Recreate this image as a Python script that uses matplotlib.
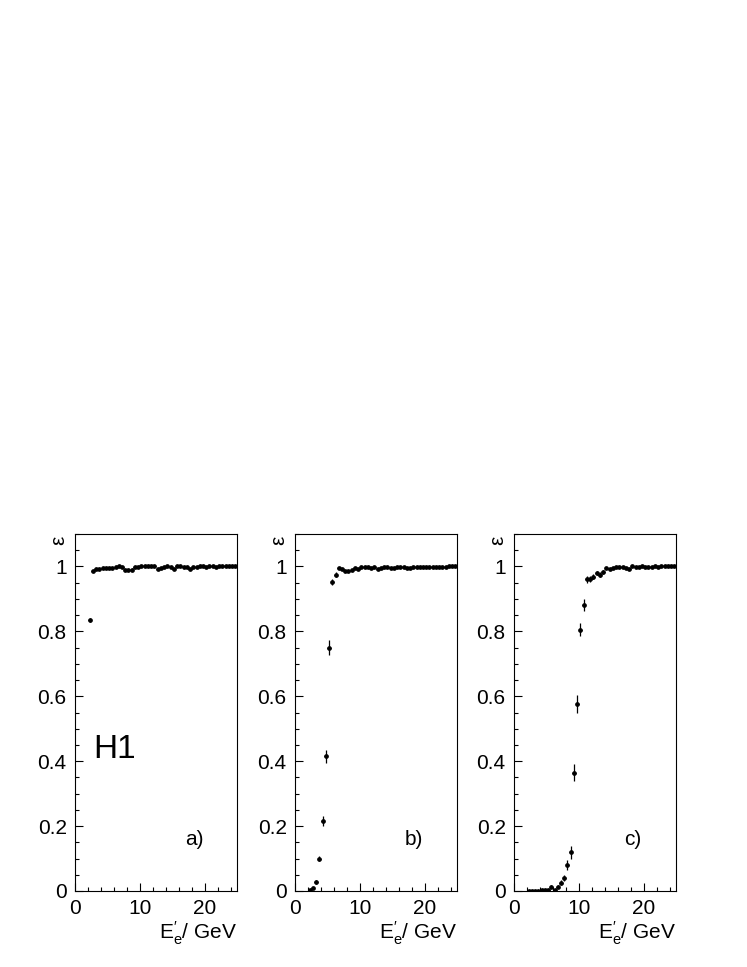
import matplotlib
matplotlib.use("Agg")
import matplotlib.pyplot as plt
from matplotlib.ticker import MultipleLocator, FuncFormatter

plt.rcParams['font.family'] = ['Liberation Sans', 'DejaVu Sans']
plt.rcParams['mathtext.fontset'] = 'custom'
plt.rcParams['mathtext.rm'] = 'Liberation Sans'
plt.rcParams['mathtext.it'] = 'Liberation Sans'

# bin centres of E'_e (GeV)
e_bins = [2.25, 2.75, 3.25, 3.75, 4.25, 4.75, 5.25, 5.75, 6.25, 6.75,
          7.25, 7.75, 8.25, 8.75, 9.25, 9.75, 10.25, 10.75, 11.25, 11.75,
          12.25, 12.75, 13.25, 13.75, 14.25, 14.75, 15.25, 15.75, 16.25, 16.75,
          17.25, 17.75, 18.25, 18.75, 19.25, 19.75, 20.25, 20.75, 21.25, 21.75,
          22.25, 22.75, 23.25, 23.75, 24.25, 24.75]
bin_half = 0.25

# efficiencies
eff_a = [0.835, 0.985, 0.992, 0.993, 0.994, 0.994, 0.995, 0.996, 0.998, 1.0,
         0.999, 0.989, 0.989, 0.990, 0.999, 0.997, 1.0, 1.0, 1.0, 1.0,
         1.0, 0.993, 0.996, 0.997, 1.0, 0.998, 0.993, 1.0, 1.0, 0.999,
         0.997, 0.993, 0.998, 0.999, 1.0, 1.0, 0.999, 1.0, 1.0, 0.999,
         1.0, 1.0, 1.0, 1.0, 1.0, 1.0]
err_a = [0.005, 0.003, 0.002, 0.002, 0.002, 0.002, 0.002, 0.002, 0.002, 0.002,
         0.002, 0.004, 0.004, 0.004, 0.002, 0.002, 0.002, 0.002, 0.002, 0.002,
         0.002, 0.002, 0.002, 0.002, 0.002, 0.002, 0.002, 0.002, 0.002, 0.002,
         0.002, 0.002, 0.002, 0.002, 0.002, 0.002, 0.002, 0.002, 0.002, 0.002,
         0.002, 0.002, 0.002, 0.002, 0.002, 0.002]

eff_b = [0.002, 0.008, 0.028, 0.100, 0.215, 0.415, 0.750, 0.952, 0.975, 0.995,
         0.993, 0.987, 0.986, 0.988, 0.995, 0.993, 0.998, 0.997, 0.998, 0.995,
         0.999, 0.992, 0.994, 0.998, 0.999, 0.996, 0.995, 0.999, 0.999, 0.997,
         0.996, 0.994, 0.998, 0.999, 0.999, 0.998, 0.999, 0.998, 0.999, 0.998,
         0.999, 0.999, 0.999, 1.0, 1.0, 1.0]
err_b = [0.002, 0.003, 0.005, 0.008, 0.015, 0.020, 0.022, 0.010, 0.008, 0.003,
         0.003, 0.003, 0.003, 0.003, 0.003, 0.003, 0.003, 0.003, 0.003, 0.003,
         0.003, 0.003, 0.003, 0.003, 0.003, 0.003, 0.003, 0.003, 0.003, 0.003,
         0.003, 0.003, 0.003, 0.003, 0.003, 0.003, 0.003, 0.003, 0.003, 0.003,
         0.003, 0.003, 0.003, 0.003, 0.003, 0.003]

eff_c = [0.0, 0.0, 0.001, 0.001, 0.002, 0.003, 0.004, 0.013, 0.002, 0.013,
         0.025, 0.040, 0.080, 0.120, 0.365, 0.575, 0.805, 0.882, 0.960, 0.962,
         0.968, 0.980, 0.975, 0.983, 0.996, 0.993, 0.995, 0.997, 0.999, 0.998,
         0.995, 0.992, 1.0, 0.999, 0.999, 1.0, 0.999, 0.999, 0.999, 1.0,
         0.999, 1.0, 1.0, 1.0, 1.0, 1.0]
err_c = [0.002, 0.002, 0.002, 0.002, 0.002, 0.002, 0.002, 0.004, 0.003, 0.005,
         0.008, 0.010, 0.015, 0.020, 0.027, 0.028, 0.020, 0.018, 0.010, 0.010,
         0.008, 0.007, 0.007, 0.005, 0.003, 0.003, 0.003, 0.003, 0.003, 0.003,
         0.003, 0.003, 0.003, 0.003, 0.003, 0.003, 0.003, 0.003, 0.003, 0.003,
         0.003, 0.003, 0.003, 0.003, 0.003, 0.003]

panels = [(eff_a, err_a, 'a)'), (eff_b, err_b, 'b)'), (eff_c, err_c, 'c)')]
lefts = [75, 295, 514]

W, H = 747, 967
fig = plt.figure(figsize=(W / 100, H / 100), dpi=100)


def fmt(v, pos):
    if abs(v) < 1e-9:
        return '0'
    if abs(v - 1) < 1e-9:
        return '1'
    return '%.1f' % v


for (eff, err, tag), left in zip(panels, lefts):
    ax = fig.add_axes([left / W, 1 - 891 / H, 162 / W, 357 / H])
    ax.errorbar(e_bins, eff, yerr=err, xerr=bin_half, fmt='o', color='black',
                ms=2.4, elinewidth=0.9, capsize=0)
    ax.set_xlim(0, 25)
    ax.set_ylim(0, 1.1)
    ax.xaxis.set_major_locator(MultipleLocator(10))
    ax.xaxis.set_minor_locator(MultipleLocator(2))
    ax.yaxis.set_major_locator(MultipleLocator(0.2))
    ax.yaxis.set_minor_locator(MultipleLocator(0.05))
    ax.yaxis.set_major_formatter(FuncFormatter(fmt))
    ax.tick_params(which='both', direction='in', top=False, right=False,
                   labelsize=15, width=0.8)
    ax.tick_params(which='major', length=6, pad=6)
    ax.tick_params(which='minor', length=3)
    for s in ax.spines.values():
        s.set_linewidth(0.8)
    ax.text(0.68, 0.129, tag, transform=ax.transAxes, fontsize=15,
            va='baseline', ha='left')
    ax.text(1.0, -0.135, r"E$^{\prime}_{\mathrm{e}}$/ GeV", transform=ax.transAxes,
            fontsize=15, va='baseline', ha='right')
    ax.text(-0.10, 0.983, 'ε', transform=ax.transAxes, fontsize=15,
            rotation=90, ha='center', va='center')
    if tag == 'a)':
        ax.text(2.8, 0.41, 'H1', fontsize=24, va='baseline', ha='left')

fig.savefig('out.png', dpi=100)
